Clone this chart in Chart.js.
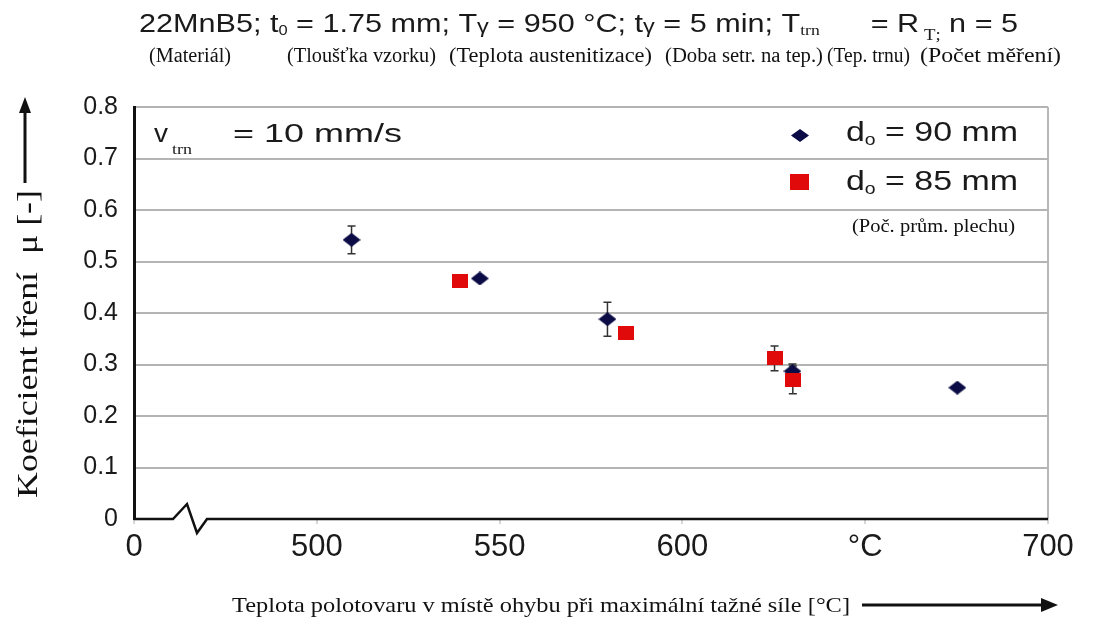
<!DOCTYPE html>
<html>
<head>
<meta charset="utf-8">
<script src="https://cdn.jsdelivr.net/npm/chart.js@4.4.1/dist/chart.umd.min.js"></script>
<style>
html, body { margin: 0; padding: 0; background: #fff; }
</style>
</head>
<body>
<canvas id="chart" width="1097" height="630"></canvas>
<script>
// values
var temp90 = [509.5, 544.6, 579.5, 630.1, 675.2];
var mu90 = [0.542, 0.467, 0.388, 0.287, 0.255];
var err90 = [0.027, 0, 0.033, 0.014, 0];

var temp85 = [539.3, 584.6, 625.2, 630.2];
var mu85 = [0.463, 0.361, 0.312, 0.270];
var err85 = [0, 0, 0.024, 0.027];

var xTicks = [450, 500, 550, 600, 650, 700];
var xTickLabels = ["0", "500", "550", "600", "°C", "700"];
var legendLabels = ["90 mm", "85 mm"];
var subtitles = ["(Materiál)", "(Tloušťka vzorku)", "(Teplota austenitizace)", "(Doba setr. na tep.)", "(Tep. trnu)", "(Počet měření)"];
var subtitleSpans = [[149, 231], [287, 436], [449, 652], [665, 823], [827, 910], [920, 1061]];

var SANS = '"Liberation Sans", Arial, sans-serif';
var SERIF = '"Liberation Serif", "Times New Roman", serif';
var navy = '#0b0b45';
var red = '#e00a0a';

function markerDiamond(w, h, color) {
    var c = document.createElement('canvas');
    c.width = w; c.height = h;
    var g = c.getContext('2d');
    g.fillStyle = color;
    g.beginPath();
    g.moveTo(w / 2, 0);
    g.lineTo(w, h / 2);
    g.lineTo(w / 2, h);
    g.lineTo(0, h / 2);
    g.closePath();
    g.fill();
    return c;
}

function markerSquare(w, h, color) {
    var c = document.createElement('canvas');
    c.width = w; c.height = h;
    var g = c.getContext('2d');
    g.fillStyle = color;
    g.fillRect(0, 0, w, h);
    return c;
}

var diamondImg = markerDiamond(18, 14, navy);
var squareImg = markerSquare(16, 14, red);

var points90 = [];
for (var i = 0; i < temp90.length; i++) {
    points90.push({x: temp90[i], y: mu90[i]});
}
var points85 = [];
for (var i = 0; i < temp85.length; i++) {
    points85.push({x: temp85[i], y: mu85[i]});
}

// draws a list of [text, font, dy] pieces, squeezed to fit x0..x1
function drawRich(ctx, parts, x0, x1, baseline) {
    var total = 0;
    for (var i = 0; i < parts.length; i++) {
        ctx.font = parts[i][1];
        total += ctx.measureText(parts[i][0]).width;
    }
    var sx = (x1 - x0) / total;
    ctx.save();
    ctx.translate(x0, baseline);
    ctx.scale(sx, 1);
    var x = 0;
    ctx.textAlign = 'left';
    ctx.textBaseline = 'alphabetic';
    for (var i = 0; i < parts.length; i++) {
        ctx.font = parts[i][1];
        ctx.fillText(parts[i][0], x, parts[i][2] || 0);
        x += ctx.measureText(parts[i][0]).width;
    }
    ctx.restore();
}

function arrow(ctx, x0, y0, x1, y1, head, half) {
    var ang = Math.atan2(y1 - y0, x1 - x0);
    ctx.save();
    ctx.lineWidth = 3;
    ctx.beginPath();
    ctx.moveTo(x0, y0);
    ctx.lineTo(x1 - Math.cos(ang) * head * 0.8, y1 - Math.sin(ang) * head * 0.8);
    ctx.stroke();
    ctx.translate(x1, y1);
    ctx.rotate(ang);
    ctx.beginPath();
    ctx.moveTo(0, 0);
    ctx.lineTo(-head, -half);
    ctx.lineTo(-head, half);
    ctx.closePath();
    ctx.fill();
    ctx.restore();
}

var extras = {
    id: 'extras',
    beforeDatasetsDraw: function(chart) {
        var ctx = chart.ctx;
        var xs = chart.scales.x, ys = chart.scales.y;
        var ca = chart.chartArea;

        // bottom axis with the break mark
        ctx.save();
        ctx.strokeStyle = '#111';
        ctx.lineWidth = 2.5;
        ctx.beginPath();
        ctx.moveTo(ca.left, ca.bottom);
        ctx.lineTo(ca.left + 39, ca.bottom);
        ctx.lineTo(ca.left + 53, ca.bottom - 15);
        ctx.lineTo(ca.left + 63, ca.bottom + 14);
        ctx.lineTo(ca.left + 73, ca.bottom);
        ctx.lineTo(ca.right, ca.bottom);
        ctx.stroke();
        ctx.restore();

        // error bars
        ctx.save();
        ctx.strokeStyle = '#333';
        ctx.lineWidth = 1.5;
        function bars(t, m, e) {
            for (var i = 0; i < t.length; i++) {
                if (!e[i]) continue;
                var px = xs.getPixelForValue(t[i]);
                var top = ys.getPixelForValue(m[i] + e[i]);
                var bot = ys.getPixelForValue(m[i] - e[i]);
                ctx.beginPath();
                ctx.moveTo(px, top); ctx.lineTo(px, bot);
                ctx.moveTo(px - 4, top); ctx.lineTo(px + 4, top);
                ctx.moveTo(px - 4, bot); ctx.lineTo(px + 4, bot);
                ctx.stroke();
            }
        }
        bars(temp90, mu90, err90);
        bars(temp85, mu85, err85);
        ctx.restore();
    },
    afterDraw: function(chart) {
        var ctx = chart.ctx;
        ctx.save();
        ctx.fillStyle = '#1a1a1a';
        ctx.strokeStyle = '#111';

        // title line
        var A = '26px ' + SANS;
        drawRich(ctx, [
            ["22MnB5; t", A, 0],
            ["0", '14px ' + SANS, 3],
            [" = 1.75 mm; T", A, 0],
            ["γ", '20px ' + SANS, 1],
            [" = 950 °C; t", A, 0],
            ["γ", '20px ' + SANS, 1],
            [" = 5 min; T", A, 0],
            ["trn", '15px ' + SERIF, 3],
            ["      = R", A, 0],
            [" T", '16px ' + SERIF, 8],
            [";", '16px ' + SERIF, 8],
            [" n = 5", A, 0]
        ], 139, 1018, 32);

        // explanations under the title
        ctx.fillStyle = '#111';
        for (var i = 0; i < subtitles.length; i++) {
            drawRich(ctx, [[subtitles[i], '20px ' + SERIF, 0]], subtitleSpans[i][0], subtitleSpans[i][1], 62);
        }

        // speed note inside the plot
        ctx.fillStyle = '#1a1a1a';
        drawRich(ctx, [["v", '26px ' + SANS, 0]], 154, 168, 142);
        drawRich(ctx, [["trn", '15px ' + SERIF, 0]], 172, 192, 154);
        drawRich(ctx, [["= 10 mm/s", '26px ' + SANS, 0]], 233, 402, 142);

        // legend
        ctx.drawImage(markerDiamond(18, 13, navy), 791, 129);
        ctx.drawImage(markerSquare(19, 16, red), 790, 174);
        drawRich(ctx, [["d", '28px ' + SANS, 0], ["o", '16px ' + SANS, 4], [" = " + legendLabels[0], '28px ' + SANS, 0]], 846, 1018, 141);
        drawRich(ctx, [["d", '28px ' + SANS, 0], ["o", '16px ' + SANS, 4], [" = " + legendLabels[1], '28px ' + SANS, 0]], 846, 1018, 190);
        ctx.fillStyle = '#111';
        drawRich(ctx, [["(Poč. prům. plechu)", '19px ' + SERIF, 0]], 852, 1015, 232);

        // y axis title with arrow
        ctx.save();
        ctx.translate(37, 498);
        ctx.rotate(-Math.PI / 2);
        drawRich(ctx, [["Koeficient tření  μ [-]", '30px ' + SERIF, 0]], 0, 308, 0);
        ctx.restore();
        ctx.fillStyle = '#111';
        arrow(ctx, 25, 183, 25, 97, 16, 6);

        // x axis title with arrow
        drawRich(ctx, [["Teplota polotovaru v místě ohybu při maximální tažné síle [°C]", '21px ' + SERIF, 0]], 232, 850, 612);
        arrow(ctx, 862, 605, 1058, 605, 17, 7);
        ctx.restore();
    }
};

var ctx = document.getElementById("chart");

var chart = new Chart(ctx, {
    type: "scatter",
    data: {
        datasets: [
            {
                label: "d0 = " + legendLabels[0],
                data: points90,
                pointStyle: diamondImg,
                backgroundColor: navy,
                order: 1
            },
            {
                label: "d0 = " + legendLabels[1],
                data: points85,
                pointStyle: squareImg,
                backgroundColor: red,
                order: 0
            }
        ]
    },
    options: {
        responsive: false,
        animation: false,
        layout: { padding: { left: 0, top: 107, right: 49, bottom: 0 } },
        plugins: {
            legend: { display: false },
            tooltip: { enabled: false }
        },
        scales: {
            x: {
                type: "linear",
                min: 450,
                max: 700,
                afterBuildTicks: function(s) {
                    s.ticks = xTicks.map(function(v){ return {value: v}; });
                },
                afterFit: function(s) { s.height = 111; },
                ticks: {
                    autoSkip: false,
                    maxRotation: 0,
                    padding: 5,
                    color: '#1a1a1a',
                    font: { family: SANS, size: 31 },
                    callback: function(v) {
                        var k = xTicks.indexOf(v);
                        return k >= 0 ? xTickLabels[k] : '';
                    }
                },
                grid: {
                    lineWidth: 2,
                    tickLength: 5,
                    tickColor: '#d6d6d6',
                    color: function(c) {
                        return c.tick && c.tick.value === 700 ? '#b8b8b8' : 'rgba(0,0,0,0)';
                    }
                },
                border: { display: false }
            },
            y: {
                min: 0,
                max: 0.8,
                afterFit: function(s) { s.width = 134; },
                ticks: {
                    stepSize: 0.1,
                    padding: 16,
                    color: '#1a1a1a',
                    font: { family: SANS, size: 25 },
                    callback: function(v) { return v === 0 ? '0' : v.toFixed(1); }
                },
                grid: {
                    lineWidth: 2,
                    drawTicks: false,
                    color: function(c) {
                        return c.tick && c.tick.value === 0 ? 'rgba(0,0,0,0)' : '#b4b4b4';
                    }
                },
                border: { color: '#111', width: 3 }
            }
        }
    },
    plugins: [extras]
});
</script>
</body>
</html>
